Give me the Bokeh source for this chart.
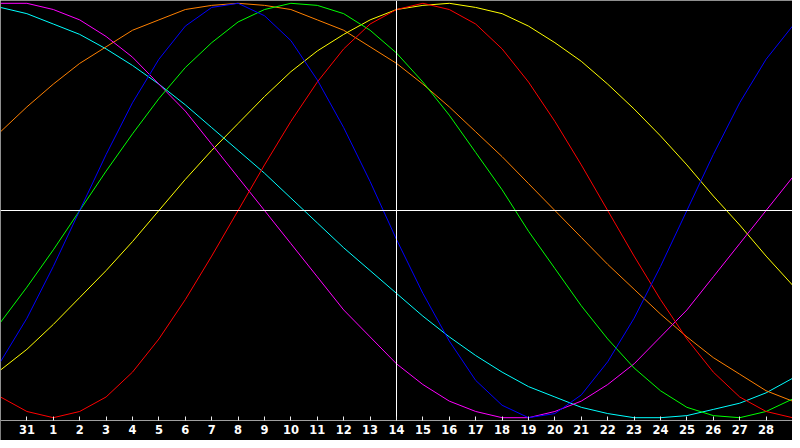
from bokeh.plotting import figure
from bokeh.models import Range1d, Span, FixedTicker, LinearAxis
from bokeh.embed import file_html
from bokeh.resources import INLINE

# day index 0..30 (30 Jan .. 1 Mar); index 15 = today (14th)
days = list(range(31))
tick_days = list(range(1, 30))
tick_labels = ["31"] + [str(d) for d in range(1, 29)]
today = 15

physical = [-0.73, -0.52, -0.27, 0.00, 0.27, 0.52, 0.73, 0.89, 0.98, 1.00, 0.94, 0.82, 0.63, 0.40, 0.14, -0.14,
            -0.40, -0.63, -0.82, -0.94, -1.00, -0.98, -0.89, -0.73, -0.52, -0.27, 0.00, 0.27, 0.52, 0.73, 0.89]
emotional = [-0.90, -0.97, -1.00, -0.97, -0.90, -0.78, -0.62, -0.43, -0.22, 0.00, 0.22, 0.43, 0.62, 0.78, 0.90, 0.97,
             1.00, 0.97, 0.90, 0.78, 0.62, 0.43, 0.22, 0.00, -0.22, -0.43, -0.62, -0.78, -0.90, -0.97, -1.00]
intellectual = [-0.54, -0.37, -0.19, 0.00, 0.19, 0.37, 0.54, 0.69, 0.81, 0.91, 0.97, 1.00, 0.99, 0.95, 0.87, 0.76,
                0.62, 0.46, 0.28, 0.10, -0.10, -0.28, -0.46, -0.62, -0.76, -0.87, -0.95, -0.99, -1.00, -0.97, -0.91]
intuitive = [1.00, 1.00, 0.97, 0.92, 0.84, 0.74, 0.61, 0.48, 0.32, 0.16, 0.00, -0.16, -0.32, -0.48, -0.61, -0.74,
             -0.84, -0.92, -0.97, -1.00, -1.00, -0.97, -0.92, -0.84, -0.74, -0.61, -0.48, -0.32, -0.16, 0.00, 0.16]
aesthetic = [-0.77, -0.67, -0.55, -0.42, -0.29, -0.15, 0.00, 0.15, 0.29, 0.42, 0.55, 0.67, 0.77, 0.85, 0.92, 0.97,
             0.99, 1.00, 0.98, 0.95, 0.89, 0.81, 0.72, 0.61, 0.49, 0.36, 0.22, 0.07, -0.07, -0.22, -0.36]
awareness = [0.38, 0.50, 0.61, 0.71, 0.79, 0.87, 0.92, 0.97, 0.99, 1.00, 0.99, 0.97, 0.92, 0.87, 0.79, 0.71,
             0.61, 0.50, 0.38, 0.26, 0.13, 0.00, -0.13, -0.26, -0.38, -0.50, -0.61, -0.71, -0.79, -0.87, -0.92]
spiritual = [0.98, 0.95, 0.90, 0.85, 0.78, 0.70, 0.61, 0.51, 0.40, 0.29, 0.18, 0.06, -0.06, -0.18, -0.29, -0.40,
             -0.51, -0.61, -0.70, -0.78, -0.85, -0.90, -0.95, -0.98, -1.00, -1.00, -0.99, -0.96, -0.93, -0.88, -0.81]

series = [
    (spiritual, "#00ffff"),
    (awareness, "#ff8000"),
    (aesthetic, "#ffff00"),
    (intuitive, "#ff00ff"),
    (intellectual, "#00ff00"),
    (emotional, "#ff0000"),
    (physical, "#0000ff"),
]

Y_TOP = 1.01354
Y_BOTTOM = -1.11006
AXIS_Y = -1.01594   # level of the day axis
GRAY = "#a0a0a0"

p = figure(width=792, height=440, output_backend="svg", toolbar_location=None,
           x_range=Range1d(0, 30), y_range=Range1d(Y_BOTTOM, Y_TOP),
           y_axis_location=None, min_border_left=0, min_border_right=0,
           min_border_top=0, min_border_bottom=0)
p.background_fill_color = "black"
p.border_fill_color = "black"
p.outline_line_color = None
p.grid.visible = False

for vals, col in series:
    p.line(days, vals, line_color=col, line_width=1)

# zero line and "today" marker
p.add_layout(Span(location=0, dimension="width", line_color="white", line_width=1))
p.segment(x0=[today], y0=[AXIS_Y], x1=[today], y1=[Y_TOP], line_color="white", line_width=1)

# day axis
ax = p.xaxis[0]
ax.fixed_location = AXIS_Y
ax.ticker = FixedTicker(ticks=tick_days)
ax.major_label_overrides = {d: lab for d, lab in zip(tick_days, tick_labels)}
ax.axis_line_color = GRAY
ax.major_tick_line_color = "#e8e8e8"
ax.major_tick_in = 4
ax.major_tick_out = 0
ax.minor_tick_line_color = None
ax.major_label_standoff = 4
ax.major_label_text_color = "white"
ax.major_label_text_font = "DejaVu Sans"
ax.major_label_text_font_style = "bold"
ax.major_label_text_font_size = "11.5px"

# frame lines on the left and top
left = LinearAxis(fixed_location=0, bounds=(AXIS_Y, Y_TOP), ticker=FixedTicker(ticks=[]),
                  axis_line_color=GRAY, major_tick_line_color=None, minor_tick_line_color=None,
                  major_label_text_font_size="0px")
p.add_layout(left, "left")
top = LinearAxis(fixed_location=Y_TOP, ticker=FixedTicker(ticks=[]),
                 axis_line_color=GRAY, major_tick_line_color=None, minor_tick_line_color=None,
                 major_label_text_font_size="0px")
p.add_layout(top, "above")

open("out.html", "w").write(file_html(p, INLINE))
